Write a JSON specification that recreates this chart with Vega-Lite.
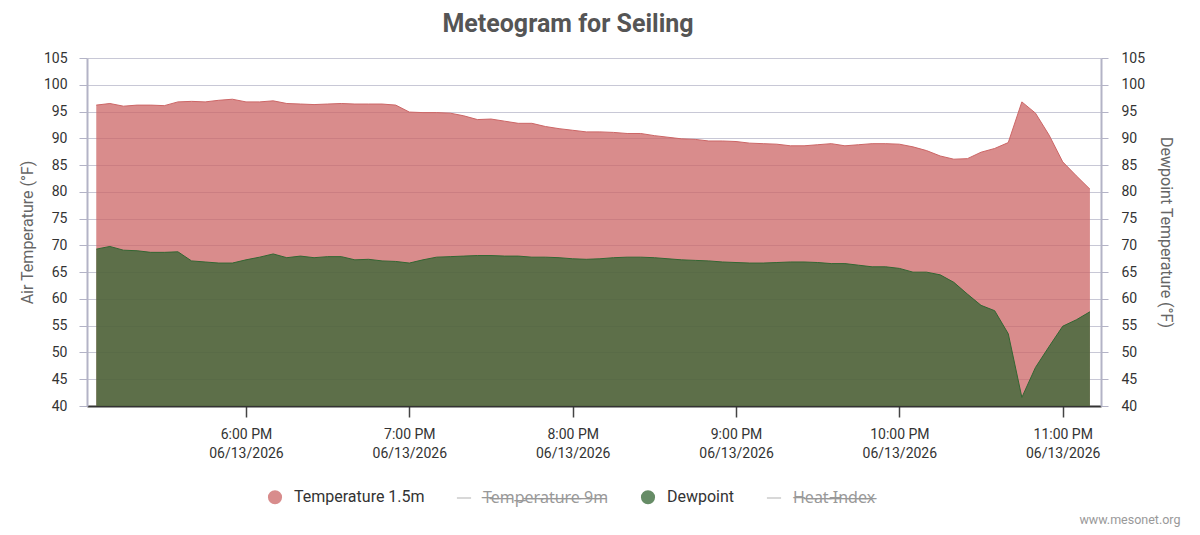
{
  "$schema": "https://vega.github.io/schema/vega-lite/v6.json",
  "width": 1014,
  "height": 348,
  "autosize": "none",
  "padding": {"left": 87, "top": 58, "right": 99, "bottom": 129},
  "background": "white",
  "config": {"font": "Roboto", "view": {"stroke": null}},
  "title": {"text": "Meteogram for Seiling", "fontSize": 25, "fontWeight": "bold", "color": "#555555", "anchor": "middle", "frame": "group", "dx": -26, "offset": 14},
  "data": {"values": [
    {"time": "2026-06-13T17:05:00", "temp": 96.2, "dew": 69.3},
    {"time": "2026-06-13T17:10:00", "temp": 96.5, "dew": 69.8},
    {"time": "2026-06-13T17:15:00", "temp": 96.0, "dew": 69.1},
    {"time": "2026-06-13T17:20:00", "temp": 96.2, "dew": 69.0},
    {"time": "2026-06-13T17:25:00", "temp": 96.2, "dew": 68.7},
    {"time": "2026-06-13T17:30:00", "temp": 96.1, "dew": 68.7},
    {"time": "2026-06-13T17:35:00", "temp": 96.8, "dew": 68.8},
    {"time": "2026-06-13T17:40:00", "temp": 96.9, "dew": 67.1},
    {"time": "2026-06-13T17:45:00", "temp": 96.8, "dew": 66.9},
    {"time": "2026-06-13T17:50:00", "temp": 97.1, "dew": 66.7},
    {"time": "2026-06-13T17:55:00", "temp": 97.3, "dew": 66.7},
    {"time": "2026-06-13T18:00:00", "temp": 96.8, "dew": 67.3},
    {"time": "2026-06-13T18:05:00", "temp": 96.8, "dew": 67.8},
    {"time": "2026-06-13T18:10:00", "temp": 97.0, "dew": 68.4},
    {"time": "2026-06-13T18:15:00", "temp": 96.5, "dew": 67.7},
    {"time": "2026-06-13T18:20:00", "temp": 96.4, "dew": 68.0},
    {"time": "2026-06-13T18:25:00", "temp": 96.3, "dew": 67.7},
    {"time": "2026-06-13T18:30:00", "temp": 96.4, "dew": 67.9},
    {"time": "2026-06-13T18:35:00", "temp": 96.5, "dew": 67.9},
    {"time": "2026-06-13T18:40:00", "temp": 96.4, "dew": 67.3},
    {"time": "2026-06-13T18:45:00", "temp": 96.4, "dew": 67.4},
    {"time": "2026-06-13T18:50:00", "temp": 96.4, "dew": 67.1},
    {"time": "2026-06-13T18:55:00", "temp": 96.2, "dew": 67.0},
    {"time": "2026-06-13T19:00:00", "temp": 94.9, "dew": 66.7},
    {"time": "2026-06-13T19:05:00", "temp": 94.8, "dew": 67.3},
    {"time": "2026-06-13T19:10:00", "temp": 94.8, "dew": 67.8},
    {"time": "2026-06-13T19:15:00", "temp": 94.7, "dew": 67.9},
    {"time": "2026-06-13T19:20:00", "temp": 94.2, "dew": 68.0},
    {"time": "2026-06-13T19:25:00", "temp": 93.5, "dew": 68.1},
    {"time": "2026-06-13T19:30:00", "temp": 93.6, "dew": 68.1},
    {"time": "2026-06-13T19:35:00", "temp": 93.2, "dew": 68.0},
    {"time": "2026-06-13T19:40:00", "temp": 92.8, "dew": 68.0},
    {"time": "2026-06-13T19:45:00", "temp": 92.8, "dew": 67.8},
    {"time": "2026-06-13T19:50:00", "temp": 92.2, "dew": 67.8},
    {"time": "2026-06-13T19:55:00", "temp": 91.8, "dew": 67.7},
    {"time": "2026-06-13T20:00:00", "temp": 91.5, "dew": 67.5},
    {"time": "2026-06-13T20:05:00", "temp": 91.2, "dew": 67.4},
    {"time": "2026-06-13T20:10:00", "temp": 91.2, "dew": 67.5},
    {"time": "2026-06-13T20:15:00", "temp": 91.1, "dew": 67.7},
    {"time": "2026-06-13T20:20:00", "temp": 90.9, "dew": 67.8},
    {"time": "2026-06-13T20:25:00", "temp": 90.9, "dew": 67.8},
    {"time": "2026-06-13T20:30:00", "temp": 90.5, "dew": 67.7},
    {"time": "2026-06-13T20:35:00", "temp": 90.2, "dew": 67.5},
    {"time": "2026-06-13T20:40:00", "temp": 89.9, "dew": 67.3},
    {"time": "2026-06-13T20:45:00", "temp": 89.8, "dew": 67.2},
    {"time": "2026-06-13T20:50:00", "temp": 89.5, "dew": 67.1},
    {"time": "2026-06-13T20:55:00", "temp": 89.5, "dew": 66.9},
    {"time": "2026-06-13T21:00:00", "temp": 89.4, "dew": 66.8},
    {"time": "2026-06-13T21:05:00", "temp": 89.1, "dew": 66.7},
    {"time": "2026-06-13T21:10:00", "temp": 89.0, "dew": 66.7},
    {"time": "2026-06-13T21:15:00", "temp": 88.9, "dew": 66.8},
    {"time": "2026-06-13T21:20:00", "temp": 88.6, "dew": 66.9},
    {"time": "2026-06-13T21:25:00", "temp": 88.6, "dew": 66.9},
    {"time": "2026-06-13T21:30:00", "temp": 88.8, "dew": 66.8},
    {"time": "2026-06-13T21:35:00", "temp": 89.0, "dew": 66.6},
    {"time": "2026-06-13T21:40:00", "temp": 88.6, "dew": 66.6},
    {"time": "2026-06-13T21:45:00", "temp": 88.8, "dew": 66.3},
    {"time": "2026-06-13T21:50:00", "temp": 89.0, "dew": 66.0},
    {"time": "2026-06-13T21:55:00", "temp": 89.0, "dew": 66.0},
    {"time": "2026-06-13T22:00:00", "temp": 88.9, "dew": 65.7},
    {"time": "2026-06-13T22:05:00", "temp": 88.4, "dew": 65.0},
    {"time": "2026-06-13T22:10:00", "temp": 87.7, "dew": 65.0},
    {"time": "2026-06-13T22:15:00", "temp": 86.7, "dew": 64.5},
    {"time": "2026-06-13T22:20:00", "temp": 86.1, "dew": 63.1},
    {"time": "2026-06-13T22:25:00", "temp": 86.2, "dew": 60.9},
    {"time": "2026-06-13T22:30:00", "temp": 87.4, "dew": 58.8},
    {"time": "2026-06-13T22:35:00", "temp": 88.1, "dew": 57.8},
    {"time": "2026-06-13T22:40:00", "temp": 89.2, "dew": 53.5},
    {"time": "2026-06-13T22:45:00", "temp": 96.8, "dew": 41.6},
    {"time": "2026-06-13T22:50:00", "temp": 94.7, "dew": 47.2},
    {"time": "2026-06-13T22:55:00", "temp": 90.6, "dew": 51.1},
    {"time": "2026-06-13T23:00:00", "temp": 85.6, "dew": 54.9},
    {"time": "2026-06-13T23:05:00", "temp": 83.0, "dew": 56.1},
    {"time": "2026-06-13T23:10:00", "temp": 80.5, "dew": 57.6}
  ]},
  "layer": [
    {
      "layer": [
        {
          "mark": {"type": "area", "opacity": 0.75},
          "encoding": {
            "x": {
              "field": "time", "type": "temporal",
              "scale": {"domain": [
                {"year": 2026, "month": 6, "date": 13, "hours": 17, "minutes": 1, "seconds": 36},
                {"year": 2026, "month": 6, "date": 13, "hours": 23, "minutes": 14, "seconds": 4}
              ], "nice": false},
              "axis": {
                "values": [
                  {"year": 2026, "month": 6, "date": 13, "hours": 18},
                  {"year": 2026, "month": 6, "date": 13, "hours": 19},
                  {"year": 2026, "month": 6, "date": 13, "hours": 20},
                  {"year": 2026, "month": 6, "date": 13, "hours": 21},
                  {"year": 2026, "month": 6, "date": 13, "hours": 22},
                  {"year": 2026, "month": 6, "date": 13, "hours": 23}
                ],
                "labelExpr": "[timeFormat(datum.value, '%-I:%M %p'), timeFormat(datum.value, '%m/%d/%Y')]",
                "labelFontSize": 14, "labelColor": "#333333", "labelLineHeight": 19, "labelPadding": 10,
                "tickSize": 11, "tickColor": "#444444", "tickWidth": 1.5,
                "domainColor": "#333333", "domainWidth": 2, "grid": false,
                "title": "www.mesonet.org", "titleFontSize": 12.5, "titleColor": "#999999", "titleFontWeight": "normal",
                "titleAnchor": "end", "titleAlign": "right", "titleX": 1093, "titleY": 113, "titleBaseline": "middle"
              }
            },
            "y": {
              "field": "temp", "type": "quantitative",
              "scale": {"domain": [40, 105], "nice": false, "zero": false},
              "axis": {
                "orient": "left",
                "values": [40, 45, 50, 55, 60, 65, 70, 75, 80, 85, 90, 95, 100, 105],
                "tickCount": 14,
                "labelOverlap": false, "labelBound": false,
                "title": "Air Temperature (°F)", "titleFontSize": 16, "titleColor": "#666666", "titleFontWeight": "normal", "titlePadding": 8,
                "labelFontSize": 14, "labelColor": "#333333", "labelPadding": 12,
                "tickSize": 8, "tickColor": "#b3b3c6", "domainColor": "#b3b3c6", "domainWidth": 2,
                "grid": true, "gridColor": "#c8c8d6", "gridWidth": 1
              }
            },
            "y2": {"datum": 40},
            "color": {
              "datum": "Temperature 1.5m", "type": "nominal",
              "scale": {"domain": ["Temperature 1.5m", "Temperature 9m", "Dewpoint", "Heat Index"], "range": ["#CC6666", "#bbbbbb", "#336633", "#bbbbbb"]},
              "legend": {
                "orient": "none", "legendX": 180, "legendY": 431, "direction": "horizontal", "title": null, "padding": 0,
                "labelFontSize": 16, "labelOffset": 11, "columnPadding": 29,
                "labelFont": {"expr": "indexof(['Temperature 9m','Heat Index'], datum.value) >= 0 ? 'Noto Sans' : 'Roboto'"},
                "labelColor": {"expr": "indexof(['Temperature 9m','Heat Index'], datum.value) >= 0 ? '#999999' : '#333333'"},
                "labelExpr": "indexof(['Temperature 9m','Heat Index'], datum.value) >= 0 ? replace(datum.label, regexp('(.)', 'g'), '$1\u0336') : datum.label",
                "symbolType": {"expr": "indexof(['Temperature 9m','Heat Index'], datum.value) >= 0 ? 'stroke' : 'circle'"},
                "symbolStrokeColor": {"expr": "indexof(['Temperature 9m','Heat Index'], datum.value) >= 0 ? '#aaaaaa' : 'transparent'"},
                "symbolStrokeWidth": 1.2, "symbolSize": 200, "symbolOpacity": 1
              }
            }
          }
        },
        {
          "mark": {"type": "line", "color": "#CC6666", "strokeWidth": 1},
          "encoding": {
            "x": {"field": "time", "type": "temporal"},
            "y": {
              "field": "temp", "type": "quantitative",
              "axis": {
                "orient": "left",
                "values": [40, 45, 50, 55, 60, 65, 70, 75, 80, 85, 90, 95, 100, 105],
                "tickCount": 14,
                "labelOverlap": false, "labelBound": false,
                "title": "Air Temperature (°F)", "titleFontSize": 16, "titleColor": "#666666", "titleFontWeight": "normal", "titlePadding": 8,
                "labelFontSize": 14, "labelColor": "#333333", "labelPadding": 12,
                "tickSize": 8, "tickColor": "#b3b3c6", "domainColor": "#b3b3c6", "domainWidth": 2,
                "grid": true, "gridColor": "#c8c8d6", "gridWidth": 1
              }
            }
          }
        }
      ]
    },
    {
      "layer": [
        {
          "mark": {"type": "area", "opacity": 0.75},
          "encoding": {
            "x": {"field": "time", "type": "temporal"},
            "y": {
              "field": "dew", "type": "quantitative",
              "scale": {"domain": [40, 105], "nice": false, "zero": false},
              "axis": {
                "orient": "right",
                "values": [40, 45, 50, 55, 60, 65, 70, 75, 80, 85, 90, 95, 100, 105],
                "tickCount": 14,
                "labelOverlap": false, "labelBound": false,
                "title": "Dewpoint Temperature (°F)", "titleFontSize": 16, "titleColor": "#666666", "titleFontWeight": "normal", "titlePadding": 13,
                "labelFontSize": 14, "labelColor": "#333333", "labelPadding": 13,
                "tickSize": 7, "tickColor": "#b3b3c6", "domainColor": "#b3b3c6", "domainWidth": 2,
                "grid": false
              }
            },
            "y2": {"datum": 40},
            "color": {"datum": "Dewpoint", "type": "nominal"}
          }
        },
        {
          "mark": {"type": "line", "color": "#336633", "strokeWidth": 1},
          "encoding": {
            "x": {"field": "time", "type": "temporal"},
            "y": {
              "field": "dew", "type": "quantitative",
              "axis": {
                "orient": "right",
                "values": [40, 45, 50, 55, 60, 65, 70, 75, 80, 85, 90, 95, 100, 105],
                "tickCount": 14,
                "labelOverlap": false, "labelBound": false,
                "title": "Dewpoint Temperature (°F)", "titleFontSize": 16, "titleColor": "#666666", "titleFontWeight": "normal", "titlePadding": 13,
                "labelFontSize": 14, "labelColor": "#333333", "labelPadding": 13,
                "tickSize": 7, "tickColor": "#b3b3c6", "domainColor": "#b3b3c6", "domainWidth": 2,
                "grid": false
              }
            }
          }
        }
      ]
    }
  ],
  "resolve": {"scale": {"y": "independent"}}
}
